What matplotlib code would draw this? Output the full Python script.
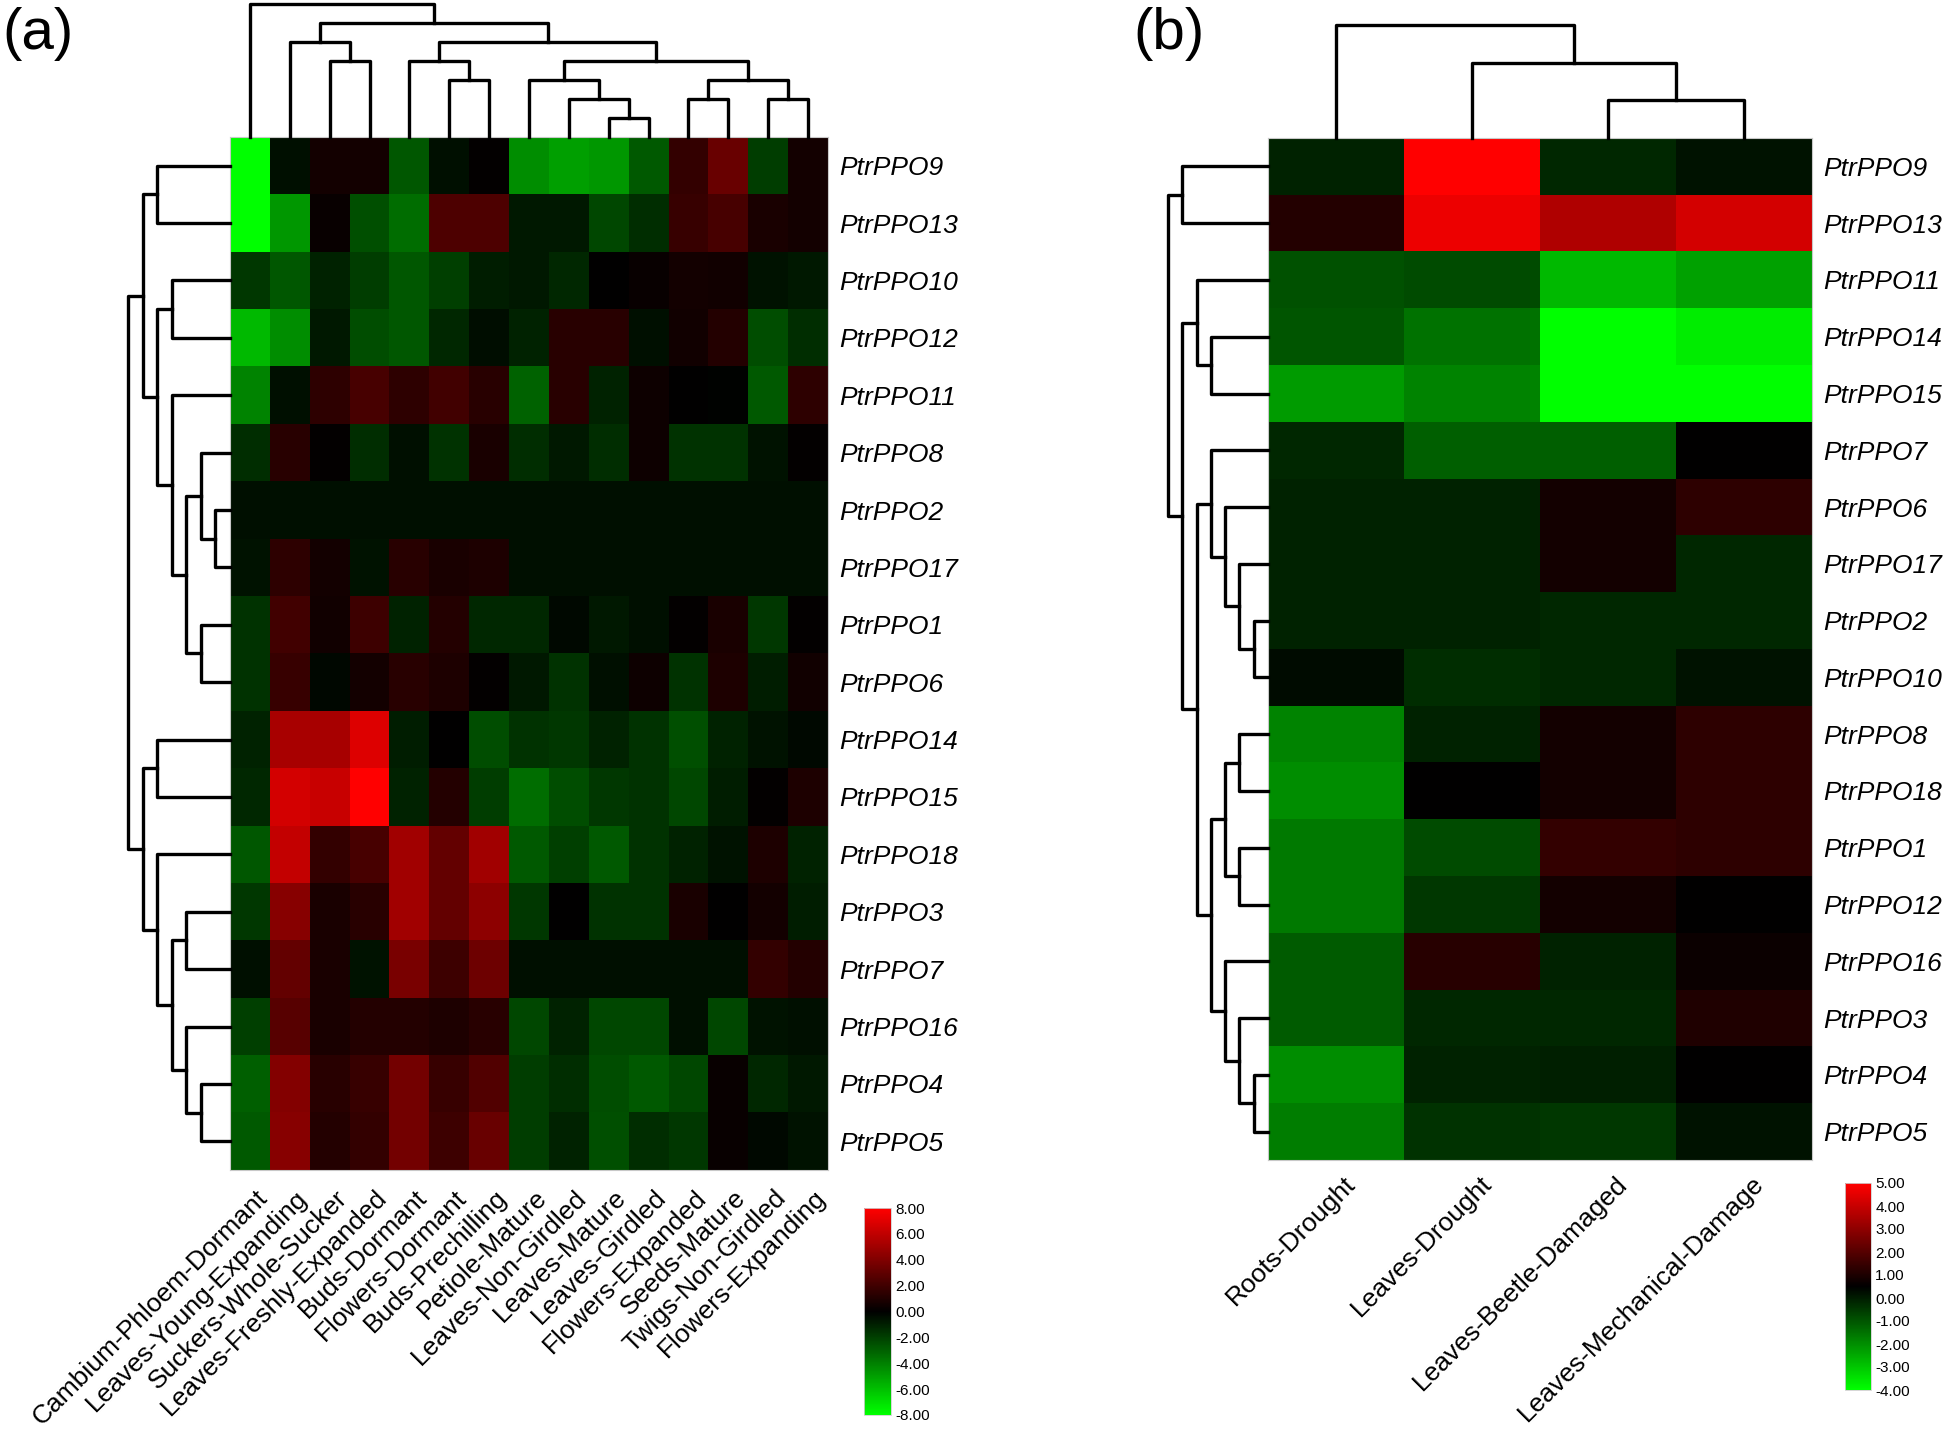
import numpy as np
import matplotlib
matplotlib.use("Agg")
import matplotlib.pyplot as plt
from matplotlib.colors import LinearSegmentedColormap
import matplotlib.transforms as mtransforms

plt.rcParams['font.family'] = ['Liberation Sans', 'DejaVu Sans']

# ---- panel (a): tissues ----
a_samples = ["Cambium-Phloem-Dormant", "Leaves-Young-Expanding", "Suckers-Whole-Sucker",
             "Leaves-Freshly-Expanded", "Buds-Dormant", "Flowers-Dormant", "Buds-Prechilling",
             "Petiole-Mature", "Leaves-Non-Girdled", "Leaves-Mature", "Leaves-Girdled",
             "Flowers-Expanded", "Seeds-Mature", "Twigs-Non-Girdled", "Flowers-Expanding"]
a_genes = ["PtrPPO9", "PtrPPO13", "PtrPPO10", "PtrPPO12", "PtrPPO11", "PtrPPO8", "PtrPPO2",
           "PtrPPO17", "PtrPPO1", "PtrPPO6", "PtrPPO14", "PtrPPO15", "PtrPPO18", "PtrPPO3",
           "PtrPPO7", "PtrPPO16", "PtrPPO4", "PtrPPO5"]
a_values = [
    [-8.0, -0.5, 0.6, 0.6, -2.7, -0.5, 0.1, -4.4, -5.0, -4.7, -2.8, 1.6, 3.3, -1.9, 0.6],
    [-8.0, -4.7, 0.3, -2.5, -3.4, 2.4, 2.4, -0.8, -0.8, -2.2, -1.4, 1.7, 2.2, 0.8, 0.6],
    [-1.7, -2.7, -1.1, -1.9, -2.7, -2.0, -0.9, -0.8, -1.2, 0.0, 0.3, 0.6, 0.5, -0.6, -0.8],
    [-5.8, -4.4, -0.8, -2.4, -2.7, -1.2, -0.4, -1.1, 1.3, 1.3, -0.5, 0.5, 1.1, -2.4, -1.4],
    [-4.1, -0.5, 1.4, 2.2, 1.4, 2.0, 1.3, -3.1, 1.3, -1.1, 0.4, 0.0, -0.1, -2.8, 1.4],
    [-1.4, 1.3, 0.1, -1.4, -0.5, -1.6, 0.8, -1.4, -0.8, -1.4, 0.4, -1.6, -1.6, -0.6, 0.1],
    [-0.5, -0.5, -0.5, -0.5, -0.5, -0.5, -0.5, -0.5, -0.5, -0.5, -0.5, -0.5, -0.5, -0.5, -0.5],
    [-0.6, 1.4, 0.6, -0.6, 1.3, 0.8, 0.9, -0.5, -0.5, -0.5, -0.5, -0.5, -0.5, -0.5, -0.5],
    [-1.6, 2.0, 0.5, 1.9, -1.1, 1.1, -1.2, -1.2, -0.3, -0.8, -0.5, 0.1, 0.8, -1.7, 0.1],
    [-1.6, 1.7, -0.2, 0.6, 1.3, 0.9, 0.1, -0.8, -1.6, -0.5, 0.4, -1.6, 0.9, -0.9, 0.5],
    [-1.1, 5.3, 5.2, 6.9, -0.9, 0.0, -2.4, -1.6, -1.7, -1.1, -1.6, -2.5, -1.1, -0.6, -0.3],
    [-1.2, 6.6, 6.3, 8.0, -1.1, 1.1, -1.9, -3.4, -2.4, -1.7, -1.6, -2.2, -0.9, 0.1, 0.9],
    [-2.7, 6.1, 1.6, 2.2, 5.0, 3.1, 5.0, -2.8, -2.0, -2.8, -1.6, -1.1, -0.6, 0.9, -1.1],
    [-1.7, 4.2, 0.8, 1.3, 5.0, 3.1, 4.4, -1.7, 0.0, -1.6, -1.6, 0.8, 0.0, 0.6, -0.9],
    [-0.5, 3.1, 0.8, -0.6, 3.8, 1.9, 3.4, -0.5, -0.5, -0.5, -0.5, -0.5, -0.5, 1.6, 1.1],
    [-2.0, 2.7, 0.8, 1.1, 1.1, 0.9, 1.3, -2.2, -1.1, -2.2, -2.2, -0.5, -2.2, -0.6, -0.5],
    [-3.0, 4.1, 1.3, 1.7, 3.6, 1.7, 2.5, -1.9, -1.4, -2.4, -2.8, -2.2, 0.25, -1.2, -0.8],
    [-2.8, 4.2, 1.1, 1.6, 3.6, 1.9, 3.3, -1.9, -1.1, -2.5, -1.4, -1.7, 0.25, -0.3, -0.6],
]
a_ticks = [8, 6, 4, 2, 0, -2, -4, -6, -8]

# ---- panel (b): stresses ----
b_samples = ["Roots-Drought", "Leaves-Drought", "Leaves-Beetle-Damaged", "Leaves-Mechanical-Damage"]
b_genes = ["PtrPPO9", "PtrPPO13", "PtrPPO11", "PtrPPO14", "PtrPPO15", "PtrPPO7", "PtrPPO6",
           "PtrPPO17", "PtrPPO2", "PtrPPO10", "PtrPPO8", "PtrPPO18", "PtrPPO1", "PtrPPO12",
           "PtrPPO16", "PtrPPO3", "PtrPPO4", "PtrPPO5"]
b_values = [
    [-0.12, 5.0, -0.2, 0.18],
    [1.12, 4.65, 3.59, 4.2],
    [-0.91, -0.82, -2.76, -2.32],
    [-1.0, -1.53, -4.0, -3.65],
    [-2.24, -1.79, -4.0, -4.0],
    [-0.2, -1.18, -1.18, 0.5],
    [-0.12, -0.12, 0.85, 1.29],
    [-0.12, -0.12, 0.85, -0.2],
    [-0.12, -0.12, -0.2, -0.2],
    [0.29, -0.29, -0.2, 0.15],
    [-1.79, -0.12, 0.85, 1.29],
    [-1.97, 0.5, 0.85, 1.29],
    [-1.62, -0.82, 1.38, 1.29],
    [-1.62, -0.47, 0.85, 0.5],
    [-1.09, 1.2, -0.12, 0.71],
    [-1.09, -0.2, -0.2, 1.03],
    [-1.97, -0.12, -0.03, 0.5],
    [-1.7, -0.38, -0.47, 0.15],
]
b_ticks = [5, 4, 3, 2, 1, 0, -1, -2, -3, -4]

# dendrograms: leaf = display index, node = (left, right, merge level)
a_col_tree = (0, ((1, (2, 3, 4), 5),
                  ((4, (5, 6, 3), 4),
                   ((7, (8, (9, 10, 1), 2), 3), ((11, 12, 2), (13, 14, 2), 3), 4), 5), 6), 7)
a_row_tree = (((0, 1, 5), ((2, 3, 4), (4, ((5, (6, 7, 1), 2), (8, 9, 2), 3), 4), 5), 6),
              ((10, 11, 5), (12, ((13, 14, 3), (15, (16, 17, 2), 3), 4), 5), 6), 7)
b_col_tree = (0, (1, (2, 3, 1), 2), 3)
b_row_tree = ((0, 1, 6),
              ((2, (3, 4, 4), 5),
               ((5, (6, (7, (8, 9, 1), 2), 3), 4),
                (((10, 11, 2), (12, 13, 2), 3), (14, (15, (16, 17, 1), 2), 3), 4), 5), 6), 7)

W, H = 1946, 1433
fig = plt.figure(figsize=(W / 100, H / 100), dpi=100)
cmap = LinearSegmentedColormap.from_list("gkr", [(0, 1, 0), (0, 0, 0), (1, 0, 0)])


def px_axes(x0, y0, x1, y1):
    return fig.add_axes([x0 / W, 1 - y1 / H, (x1 - x0) / W, (y1 - y0) / H])


def draw_tree(ax, node, top):
    if isinstance(node, int):
        return node, 0
    l, r, h = node
    pl, hl = draw_tree(ax, l, top)
    pr, hr = draw_tree(ax, r, top)
    p = [pl, pl, pr, pr]
    q = [hl, h, h, hr]
    if top:
        ax.plot(p, q, color='black', lw=2.4, clip_on=False, solid_capstyle='projecting')
    else:
        ax.plot(q, p, color='black', lw=2.4, clip_on=False, solid_capstyle='projecting')
    return (pl + pr) / 2, h


def panel(box, samples, genes, values, vmin, vmax, col_tree, col_top, row_tree, row_step,
          cbar_box, ticks, lab_dx, lab_dy):
    x0, y0, x1, y1 = box
    data = np.array(values)
    ax = px_axes(x0, y0, x1, y1)
    im = ax.imshow(data, cmap=cmap, vmin=vmin, vmax=vmax, aspect='auto', interpolation='nearest')
    for s in ax.spines.values():
        s.set_color('#c8c8c8')
        s.set_linewidth(0.8)
    ax.yaxis.tick_right()
    ax.set_yticks(range(len(genes)))
    ax.set_yticklabels(genes, fontsize=19, style='italic')
    ax.tick_params(axis='y', length=0, pad=8)
    ax.set_xticks(range(len(samples)))
    ax.set_xticklabels(samples, fontsize=19, rotation=45, ha='right', va='center',
                       rotation_mode='anchor')
    ax.tick_params(axis='x', length=0, pad=0)
    off = mtransforms.ScaledTranslation(lab_dx / 100, -lab_dy / 100, fig.dpi_scale_trans)
    for lab in ax.get_xticklabels():
        lab.set_transform(lab.get_transform() + off)

    # column dendrogram
    levels = max(col_tree[2], 1)
    axc = px_axes(x0, 0, x1, y0)
    draw_tree(axc, col_tree, True)
    axc.set_xlim(-0.5, len(samples) - 0.5)
    axc.set_ylim(0, levels * y0 / (y0 - col_top))
    axc.axis('off')

    # row dendrogram
    width = 112
    axr = px_axes(x0 - width, y0, x0, y1)
    draw_tree(axr, row_tree, False)
    axr.set_ylim(len(genes) - 0.5, -0.5)
    axr.set_xlim(width / row_step, 0)
    axr.axis('off')

    # colour bar
    cax = px_axes(*cbar_box)
    cb = fig.colorbar(im, cax=cax, ticks=ticks)
    cb.ax.set_yticklabels(["%.2f" % t for t in ticks], fontsize=11)
    cb.ax.tick_params(length=0, pad=3)
    cb.outline.set_edgecolor('#d0d0d0')
    cb.outline.set_linewidth(0.6)


panel((230, 137, 828, 1170), a_samples, a_genes, a_values, -8, 8, a_col_tree, 4,
      a_row_tree, 14.55, (864, 1208, 891, 1415), a_ticks, 14, 24)
panel((1268, 138, 1812, 1160), b_samples, b_genes, b_values, -4, 5, b_col_tree, 25,
      b_row_tree, 14.3, (1845, 1183, 1871, 1390), b_ticks, 16, 20)

fig.text(2 / W, 1 - 34 / H, "(a)", fontsize=42, va='center', ha='left')
fig.text(1133 / W, 1 - 34 / H, "(b)", fontsize=42, va='center', ha='left')

fig.savefig("out.png", dpi=100)
